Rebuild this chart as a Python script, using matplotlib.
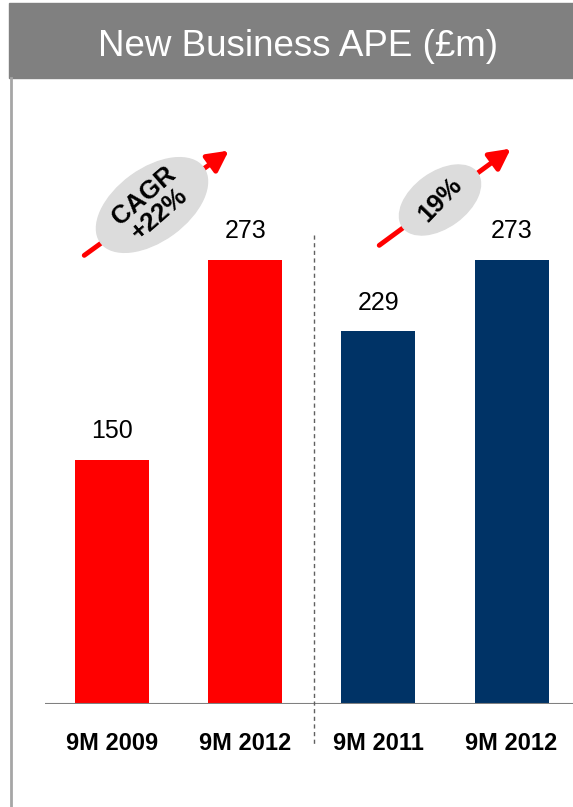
import matplotlib
matplotlib.use('Agg')
import matplotlib.pyplot as plt
from matplotlib.patches import Rectangle, Ellipse, FancyArrowPatch
from matplotlib.lines import Line2D
from matplotlib.transforms import IdentityTransform

plt.rcParams['font.family'] = ['Liberation Sans', 'DejaVu Sans']

# Data.
categories = ['9M 2009', '9M 2012', '9M 2011', '9M 2012']
ape = [150, 273, 229, 273]
bar_colors = ['#ff0000', '#ff0000', '#003366', '#003366']
title = 'New Business APE (\u00a3m)'
growth_labels = ['CAGR\n+22%', '19%']

W, H = 573, 807
fig = plt.figure(figsize=(W / 100, H / 100), dpi=100)


def fx(px):
    return px / W


def fy(py):
    return 1 - py / H


# Header band and left border.
fig.patches.append(Rectangle((fx(9), fy(78)), fx(573 - 9), 75 / H,
                             transform=fig.transFigure, color='#808080', zorder=0))
fig.lines.append(Line2D([fx(10.5), fx(10.5)], [fy(78), 0], transform=fig.transFigure,
                        color='#a6a6a6', lw=2))
fig.text(fx(298), fy(46), title, color='white', fontsize=26.5,
         ha='center', va='center')

# Bar axes: baseline at 704px, 1.628 px per unit.
ax = fig.add_axes([fx(45), fy(704), fx(573 - 45), 300 * 1.628 / H])
x = list(range(len(ape)))
ax.bar(x, ape, width=0.556, color=bar_colors, zorder=2)
ax.set_xlim(-0.503, 3.461)
ax.set_ylim(0, 300)
ax.axhline(0, color='#808080', lw=1.5, zorder=3)
ax.axis('off')

for xi, v in zip(x, ape):
    ax.annotate(str(v), (xi, v), xytext=(0, 12), textcoords='offset points',
                ha='center', va='bottom', fontsize=18)

for xi, c in zip(x, categories):
    ax.annotate(c, (xi, 0), xytext=(0, -28.5), textcoords='offset points',
                ha='center', va='center', fontsize=17, fontweight='bold')

# Dashed divider between the two comparisons.
fig.lines.append(Line2D([fx(314), fx(314)], [fy(235), fy(745)], transform=fig.transFigure,
                        color='#606060', lw=1, ls=(0, (3, 2.5))))

# Growth arrows with labelled ellipses (pixel positions).
arrows = [((82, 257), (231, 149), (152, 205), 127, 72, 36, 41, 18.5),
          ((377, 247), (513, 147), (440, 200), 92, 55, 36, 46, 18.5)]
for (tail, tip, ctr, ew, eh, ang, tang, fs), lab in zip(arrows, growth_labels):
    fig.patches.append(FancyArrowPatch((fx(tail[0]), fy(tail[1])), (fx(tip[0]), fy(tip[1])),
                                       transform=fig.transFigure, color='#ff0000',
                                       arrowstyle='-|>,head_length=5,head_width=2.6',
                                       lw=3.5, mutation_scale=2.5, zorder=4))
    e = Ellipse((ctr[0], H - ctr[1]), ew, eh, angle=ang, color='#dcdcdc', zorder=5)
    e.set_transform(IdentityTransform())
    fig.patches.append(e)
    fig.text(fx(ctr[0]), fy(ctr[1]), lab, rotation=tang, ha='center', va='center',
             fontsize=fs, fontweight='bold', linespacing=0.95, zorder=6,
             rotation_mode='anchor')

fig.savefig('out.png', dpi=100)
